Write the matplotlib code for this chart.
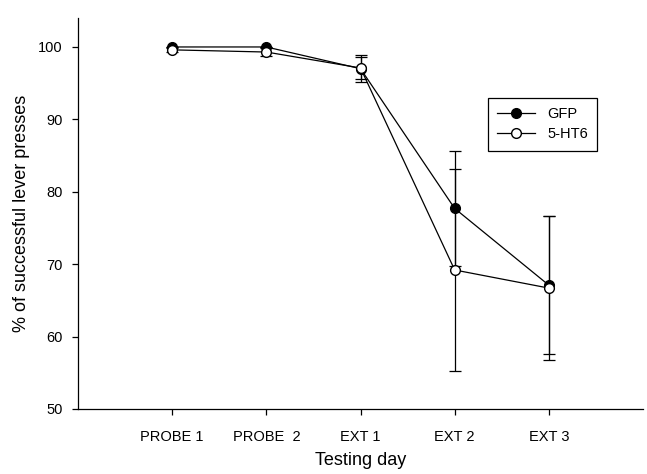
import matplotlib.pyplot as plt
import numpy as np

plt.rcParams['font.family'] = ['Liberation Sans', 'DejaVu Sans']

days = ["PROBE 1", "PROBE  2", "EXT 1", "EXT 2", "EXT 3"]
gfp_mean = [100.0, 100.0, 97.0, 77.7, 67.1]
gfp_err = [0.0, 0.0, 1.9, 8.0, 9.5]
ht6_mean = [99.6, 99.3, 97.1, 69.2, 66.7]
ht6_err = [0.3, 0.6, 1.5, 14.0, 10.0]

x = np.arange(1, len(days) + 1)

fig = plt.figure(figsize=(6.47, 4.74), dpi=100)
ax = fig.add_axes([78 / 647, 1 - 409 / 474, 565 / 647, 391 / 474])

# error bars first, lines + markers on top
ax.errorbar(x, gfp_mean, yerr=gfp_err, fmt='none', ecolor='black',
            elinewidth=0.9, capsize=4.5, capthick=0.9, zorder=1)
ax.errorbar(x, ht6_mean, yerr=ht6_err, fmt='none', ecolor='black',
            elinewidth=0.9, capsize=4.5, capthick=0.9, zorder=1)
ax.plot(x, gfp_mean, color='black', marker='o', markersize=7,
        markerfacecolor='black', markeredgecolor='black', linewidth=0.9,
        label="GFP", zorder=2)
ax.plot(x, ht6_mean, color='black', marker='o', markersize=7,
        markerfacecolor='white', markeredgecolor='black', linewidth=0.9,
        label="5-HT6", zorder=3)

ax.set_xlim(0, 6)
ax.set_ylim(50, 104)
ax.set_xticks(x)
ax.set_xticklabels(days)
ax.set_yticks([50, 60, 70, 80, 90, 100])
ax.tick_params(direction='out', length=4, width=0.9, labelsize=10.5, colors='black')
ax.tick_params(axis='x', pad=11)
ax.tick_params(axis='y', pad=7)
ax.spines['top'].set_visible(False)
ax.spines['right'].set_visible(False)
ax.spines['left'].set_linewidth(0.9)
ax.spines['bottom'].set_linewidth(0.9)

ax.set_xlabel("Testing day", fontsize=13, labelpad=6)
ax.set_ylabel("% of successful lever presses", fontsize=13, labelpad=6)

leg = ax.legend(loc='upper left', bbox_to_anchor=(488 / 647, 1 - 98 / 474),
                bbox_transform=fig.transFigure, fontsize=10.5, fancybox=False,
                edgecolor='black', borderaxespad=0, handlelength=2.6,
                borderpad=0.65, labelspacing=0.4, framealpha=1)
leg.get_frame().set_linewidth(0.9)

fig.savefig("out.png", dpi=100)
